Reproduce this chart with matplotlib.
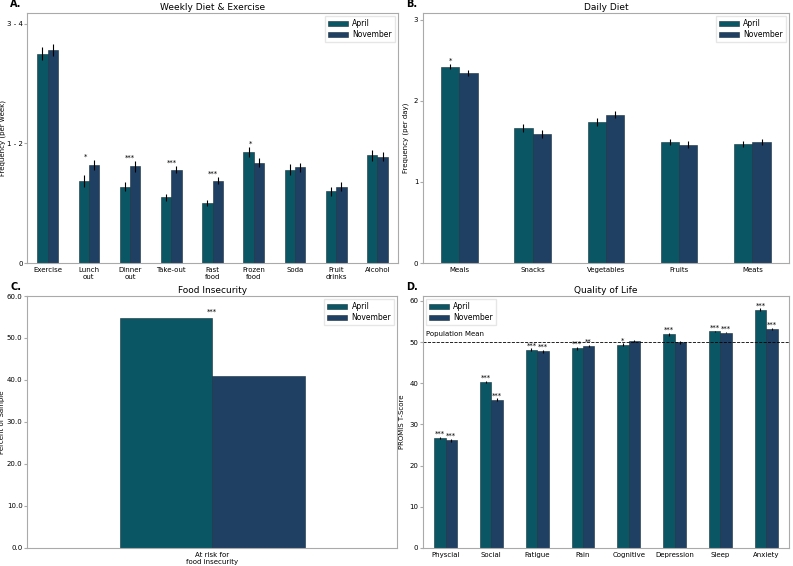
import numpy as np
import matplotlib
matplotlib.use("Agg")
import matplotlib.pyplot as plt

april_color = '#0b5665'
nov_color = '#1f3f63'

# A. weekly diet & exercise
weekly_labels = ['Exercise', 'Lunch\nout', 'Dinner\nout', 'Take-out', 'Fast\nfood',
                 'Frozen\nfood', 'Soda', 'Fruit\ndrinks', 'Alcohol']
weekly_april = [1.75, 0.69, 0.64, 0.55, 0.50, 0.93, 0.78, 0.60, 0.90]
weekly_nov = [1.78, 0.82, 0.81, 0.78, 0.69, 0.84, 0.80, 0.64, 0.89]
weekly_april_err = [0.055, 0.05, 0.04, 0.03, 0.025, 0.04, 0.045, 0.04, 0.045]
weekly_nov_err = [0.05, 0.04, 0.045, 0.03, 0.03, 0.035, 0.04, 0.04, 0.04]
weekly_sig = ['', '*', '***', '***', '***', '*', '', '', '']
weekly_yticks = [0, 1, 2]
weekly_yticklabels = ['0', '1 - 2', '3 - 4']

# B. daily diet
daily_labels = ['Meals', 'Snacks', 'Vegetables', 'Fruits', 'Meats']
daily_april = [2.42, 1.66, 1.74, 1.49, 1.47]
daily_nov = [2.34, 1.59, 1.83, 1.46, 1.49]
daily_april_err = [0.03, 0.05, 0.05, 0.04, 0.04]
daily_nov_err = [0.04, 0.05, 0.04, 0.04, 0.04]
daily_sig = ['*', '', '', '', '']

# C. food insecurity
food_labels = ['At risk for\nfood insecurity']
food_april = [54.8]
food_nov = [41.0]
food_sig = ['***']

# D. quality of life
qol_labels = ['Physcial', 'Social', 'Fatigue', 'Pain', 'Cognitive', 'Depression', 'Sleep', 'Anxiety']
qol_april = [26.7, 40.3, 48.1, 48.5, 49.4, 51.9, 52.6, 57.9]
qol_nov = [26.1, 36.0, 47.8, 49.0, 50.3, 50.0, 52.3, 53.2]
qol_april_err = [0.3, 0.3, 0.35, 0.3, 0.3, 0.35, 0.2, 0.3]
qol_nov_err = [0.3, 0.3, 0.35, 0.3, 0.3, 0.35, 0.2, 0.3]
qol_april_sig = ['***', '***', '***', '***', '*', '***', '***', '***']
qol_nov_sig = ['***', '***', '***', '**', '', '', '***', '***']
population_mean = 50

plt.rcParams['font.family'] = 'DejaVu Sans'
plt.rcParams['axes.edgecolor'] = '#aaaaaa'
plt.rcParams['axes.linewidth'] = 0.8
plt.rcParams['xtick.color'] = '#aaaaaa'
plt.rcParams['ytick.color'] = '#aaaaaa'
plt.rcParams['xtick.labelcolor'] = 'black'
plt.rcParams['ytick.labelcolor'] = 'black'
plt.rcParams['xtick.major.size'] = 0
plt.rcParams['ytick.major.size'] = 2
plt.rcParams['xtick.major.pad'] = 3
plt.rcParams['ytick.major.pad'] = 1.2
plt.rcParams['xtick.labelsize'] = 5
plt.rcParams['ytick.labelsize'] = 5

fig = plt.figure(figsize=(7.93, 5.66), dpi=100)
ax_a = fig.add_axes([0.034, 0.535, 0.468, 0.442])
ax_b = fig.add_axes([0.533, 0.535, 0.462, 0.442])
ax_c = fig.add_axes([0.034, 0.032, 0.467, 0.445])
ax_d = fig.add_axes([0.533, 0.032, 0.462, 0.445])

width = 0.25
err_kw = dict(ecolor='black', elinewidth=0.8, capsize=0)
legend_kw = dict(fontsize=5.5, frameon=True, fancybox=False, edgecolor='#e0e0e0',
                 labelspacing=0.25, borderpad=0.4, handlelength=2.6, handleheight=0.6,
                 handletextpad=0.6, borderaxespad=0.4)


def grouped_bars(ax, labels, april, nov, april_err=None, nov_err=None):
    x = np.arange(len(labels))
    ax.bar(x - width / 2, april, width, yerr=april_err, color=april_color,
           edgecolor='#15303c', linewidth=0.4, error_kw=err_kw, label='April')
    ax.bar(x + width / 2, nov, width, yerr=nov_err, color=nov_color,
           edgecolor='#15303c', linewidth=0.4, error_kw=err_kw, label='November')
    ax.set_xticks(x)
    ax.set_xticklabels(labels)
    ax.set_xlim(-0.5, len(labels) - 0.5)
    return x


def panel_title(ax, title, letter):
    ax.set_title(title, fontsize=6.5, pad=2)
    ax.text(-0.045, 1.015, letter, transform=ax.transAxes, fontsize=7,
            fontweight='bold', ha='left', va='bottom')


# A
x = grouped_bars(ax_a, weekly_labels, weekly_april, weekly_nov, weekly_april_err, weekly_nov_err)
ax_a.set_ylim(0, 2.09)
ax_a.set_yticks(weekly_yticks)
ax_a.set_yticklabels(weekly_yticklabels)
ax_a.set_ylabel('Frequency (per week)', fontsize=5)
ax_a.yaxis.set_label_coords(-0.057, 0.5)
for i, s in enumerate(weekly_sig):
    if s:
        top = max(weekly_april[i] + weekly_april_err[i], weekly_nov[i] + weekly_nov_err[i])
        ax_a.text(x[i] - 0.115, top, s, fontsize=5, ha='left', va='bottom')
ax_a.legend(loc='upper right', **legend_kw)
panel_title(ax_a, 'Weekly Diet & Exercise', 'A.')

# B
x = grouped_bars(ax_b, daily_labels, daily_april, daily_nov, daily_april_err, daily_nov_err)
ax_b.set_ylim(0, 3.08)
ax_b.set_yticks([0, 1, 2, 3])
ax_b.set_ylabel('Frequency (per day)', fontsize=5)
ax_b.yaxis.set_label_coords(-0.036, 0.5)
for i, s in enumerate(daily_sig):
    if s:
        ax_b.text(x[i] - width / 2, daily_april[i] + daily_april_err[i], s, fontsize=5,
                  ha='center', va='bottom')
ax_b.legend(loc='upper right', **legend_kw)
panel_title(ax_b, 'Daily Diet', 'B.')

# C
x = grouped_bars(ax_c, food_labels, food_april, food_nov)
ax_c.set_ylim(0, 60)
ax_c.set_yticks(np.arange(0, 61, 10))
ax_c.set_yticklabels(['%.1f' % t for t in np.arange(0, 61, 10)])
ax_c.set_ylabel('Percent of Sample', fontsize=5)
ax_c.yaxis.set_label_coords(-0.059, 0.5)
for i, s in enumerate(food_sig):
    ax_c.text(x[i], food_april[i] + 0.8, s, fontsize=5, ha='center', va='bottom')
ax_c.legend(loc='upper right', **legend_kw)
panel_title(ax_c, 'Food Insecurity', 'C.')

# D
x = grouped_bars(ax_d, qol_labels, qol_april, qol_nov, qol_april_err, qol_nov_err)
ax_d.set_ylim(0, 61.2)
ax_d.set_ylabel('PROMIS T-Score', fontsize=5)
ax_d.yaxis.set_label_coords(-0.049, 0.5)
ax_d.axhline(population_mean, color='black', linestyle='--', linewidth=0.6)
ax_d.text(-0.43, population_mean + 1.3, 'Population Mean', fontsize=5, ha='left', va='bottom')
for i in range(len(qol_labels)):
    if qol_april_sig[i]:
        ax_d.text(x[i] - width / 2, qol_april[i] + qol_april_err[i], qol_april_sig[i],
                  fontsize=5, ha='center', va='bottom')
    if qol_nov_sig[i]:
        ax_d.text(x[i] + width / 2, qol_nov[i] + qol_nov_err[i], qol_nov_sig[i],
                  fontsize=5, ha='center', va='bottom')
ax_d.legend(loc='upper left', **legend_kw)
panel_title(ax_d, 'Quality of Life', 'D.')

fig.savefig('out.png', dpi=100)
